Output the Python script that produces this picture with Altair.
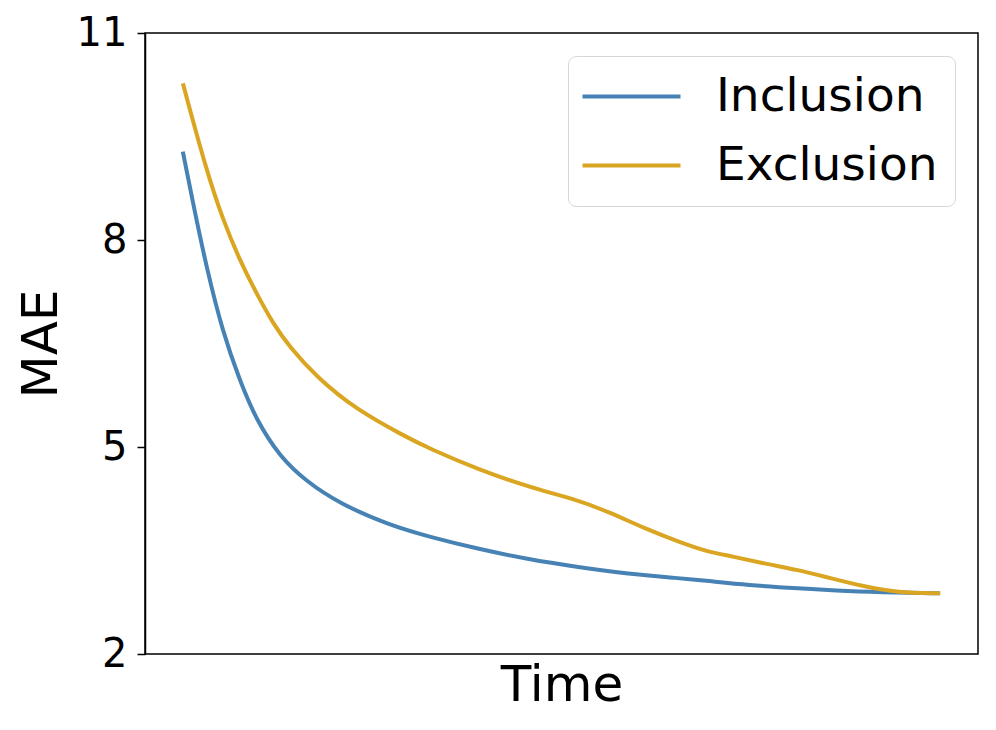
import altair as alt
import pandas as pd

# Data (time in arbitrary units 0..100)
inclusion_t = [0, 1.35, 3.1, 5.3, 7.5, 9.7, 12.8, 16.3, 20.7, 27.2, 32.5, 39.1, 45.7,
               52.2, 58.8, 65.4, 69.3, 74.6, 81.2, 87.8, 94.3, 100]
inclusion_mae = [9.28, 8.53, 7.61, 6.65, 5.97, 5.39, 4.86, 4.50, 4.18, 3.87, 3.70, 3.52, 3.37,
                 3.26, 3.16, 3.10, 3.06, 3.00, 2.95, 2.91, 2.89, 2.88]

exclusion_t = [0, 3.1, 5.3, 7.5, 9.7, 11.9, 14.1, 17.6, 22.9, 29.4, 32.5, 39.1, 45.7, 52.2,
               56.2, 61.0, 65.4, 69.3, 72.4, 76.8, 81.2, 85.5, 89.9, 94.3, 100]
exclusion_mae = [10.27, 9.01, 8.29, 7.71, 7.23, 6.79, 6.45, 6.02, 5.54, 5.15, 4.98, 4.67, 4.42, 4.23,
                 4.06, 3.82, 3.63, 3.48, 3.42, 3.31, 3.22, 3.10, 2.98, 2.89, 2.88]

series_names = ["Inclusion", "Exclusion"]
series_colors = ["#4682B4", "#DAA520"]
y_ticks = [2, 5, 8, 11]

df = pd.concat([
    pd.DataFrame({"Time": inclusion_t, "MAE": inclusion_mae, "Method": series_names[0]}),
    pd.DataFrame({"Time": exclusion_t, "MAE": exclusion_mae, "Method": series_names[1]}),
])

FONT = "DejaVu Sans"

chart = alt.Chart(df).mark_line(strokeWidth=4, interpolate="basis").encode(
    x=alt.X("Time:Q", scale=alt.Scale(domain=[-5, 105], nice=False, zero=False),
            axis=alt.Axis(title="Time", labels=False, ticks=False, grid=False,
                          domain=False, titleFontSize=50, titleFont=FONT,
                          titleFontWeight="normal", titleColor="black", titlePadding=6)),
    y=alt.Y("MAE:Q", scale=alt.Scale(domain=[2, 11], nice=False, zero=False),
            axis=alt.Axis(title="MAE", values=y_ticks, grid=False, tickSize=8, tickWidth=1.5,
                          tickColor="black", domainColor="black", domainWidth=1.5,
                          labelFontSize=40, labelFont=FONT, labelColor="black", labelPadding=10,
                          titleFontSize=50, titleFont=FONT, titleFontWeight="normal",
                          titleColor="black", titlePadding=10)),
    color=alt.Color("Method:N", sort=series_names,
                    scale=alt.Scale(domain=series_names, range=series_colors),
                    legend=alt.Legend(title=None, orient="none", legendX=423, legendY=23,
                                      symbolType="M-1.3,0H3.6", symbolSize=1600, symbolStrokeWidth=4,
                                      labelFontSize=47, labelFont=FONT, labelColor="black",
                                      labelOffset=84, labelLimit=0, rowPadding=21,
                                      padding=17, strokeColor="#d6d6d6", fillColor="white",
                                      cornerRadius=8)),
).properties(
    width=833, height=621,
    autosize=alt.AutoSizeParams(type="none"),
    padding={"left": 137, "top": 25, "right": 10, "bottom": 60},
).configure_view(stroke="black", strokeWidth=1.5)

chart.save("out.html", embed_options={"renderer": "svg", "actions": False})
